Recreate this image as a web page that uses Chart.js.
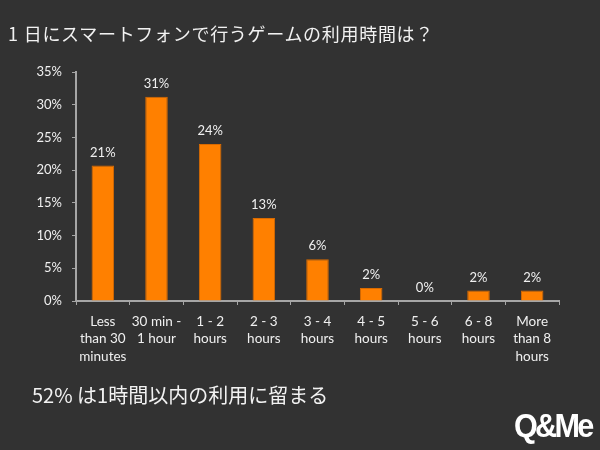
<!DOCTYPE html>
<html>
<head>
<meta charset="utf-8">
<script src="https://cdn.jsdelivr.net/npm/chart.js@4"></script>
<style>
  html, body { margin: 0; padding: 0; background: #323232; }
  .page { position: relative; width: 600px; height: 450px; overflow: hidden; }
  canvas { position: absolute; left: 0; top: 0; }
  .title { position: absolute; left: 8px; top: 20px; color: #f2f2f2;
    font: 18px "Noto Sans CJK JP"; letter-spacing: 0.7px; white-space: nowrap; }
  .title .num { margin-right: 5px; }
  .note { position: absolute; left: 32px; top: 380px; color: #f2f2f2;
    font: 20px "Noto Sans CJK JP"; white-space: nowrap; }
  .logo { position: absolute; left: 514px; top: 406px; color: #fff;
    font: bold 34px "Liberation Sans Narrow", "Liberation Sans"; letter-spacing: -3px;
    transform: scaleX(0.9); transform-origin: left top; }
</style>
</head>
<body>
<div class="page">
  <canvas id="chart" width="600" height="450"></canvas>
  <div class="title"><span class="num">1</span>日にスマートフォンで行うゲームの利用時間は？</div>
  <div class="note">52% は1時間以内の利用に留まる</div>
  <div class="logo">Q&amp;Me</div>
</div>
<script>
const categories = [
  ['Less', 'than 30', 'minutes'],
  ['30 min -', '1 hour'],
  ['1 - 2', 'hours'],
  ['2 - 3', 'hours'],
  ['3 - 4', 'hours'],
  ['4 - 5', 'hours'],
  ['5 - 6', 'hours'],
  ['6 - 8', 'hours'],
  ['More', 'than 8', 'hours'],
];
const shares = [20.7, 31.2, 24.0, 12.7, 6.4, 2.0, 0, 1.6, 1.6];
const yTicks = [0, 5, 10, 15, 20, 25, 30, 35];

const textColor = '#f0f0f0';
const axisColor = '#a6a6a6';
const fontFamily = 'Lato, "Open Sans", sans-serif';

const barLabels = {
  id: 'barLabels',
  afterDatasetsDraw(chart) {
    const ctx = chart.ctx;
    const meta = chart.getDatasetMeta(0);
    ctx.save();
    ctx.fillStyle = textColor;
    ctx.font = '13px ' + fontFamily;
    ctx.textAlign = 'center';
    ctx.textBaseline = 'middle';
    meta.data.forEach((bar, i) => {
      ctx.fillText(Math.round(shares[i]) + '%', bar.x, bar.y - 13);
    });
    ctx.restore();
  }
};

new Chart(document.getElementById('chart'), {
  type: 'bar',
  data: {
    labels: categories,
    datasets: [{
      data: shares,
      backgroundColor: '#ff8000',
      borderColor: '#d96a00',
      borderWidth: 1,
      barPercentage: 0.42,
      categoryPercentage: 1,
    }],
  },
  options: {
    responsive: false,
    animation: false,
    layout: { padding: { left: 0, top: 72, right: 41, bottom: 0 } },
    plugins: { legend: { display: false }, tooltip: { enabled: false } },
    scales: {
      x: {
        offset: true,
        afterFit(scale) { scale.height = 149; },
        grid: { offset: true, drawOnChartArea: false, color: axisColor, tickLength: 4 },
        border: { color: axisColor, width: 2 },
        ticks: {
          color: textColor,
          font: { family: fontFamily, size: 13.5, lineHeight: 1.28 },
          maxRotation: 0, autoSkip: false, padding: 8,
        },
      },
      y: {
        min: 0,
        max: 35,
        afterFit(scale) { scale.width = 76; },
        afterBuildTicks(scale) { scale.ticks = yTicks.map(v => ({ value: v })); },
        grid: { drawOnChartArea: false, color: axisColor, tickLength: 4 },
        border: { color: axisColor, width: 2 },
        ticks: { color: textColor, font: { family: fontFamily, size: 13 }, padding: 10, callback: v => v + '%' },
      },
    },
  },
  plugins: [barLabels],
});
</script>
</body>
</html>
